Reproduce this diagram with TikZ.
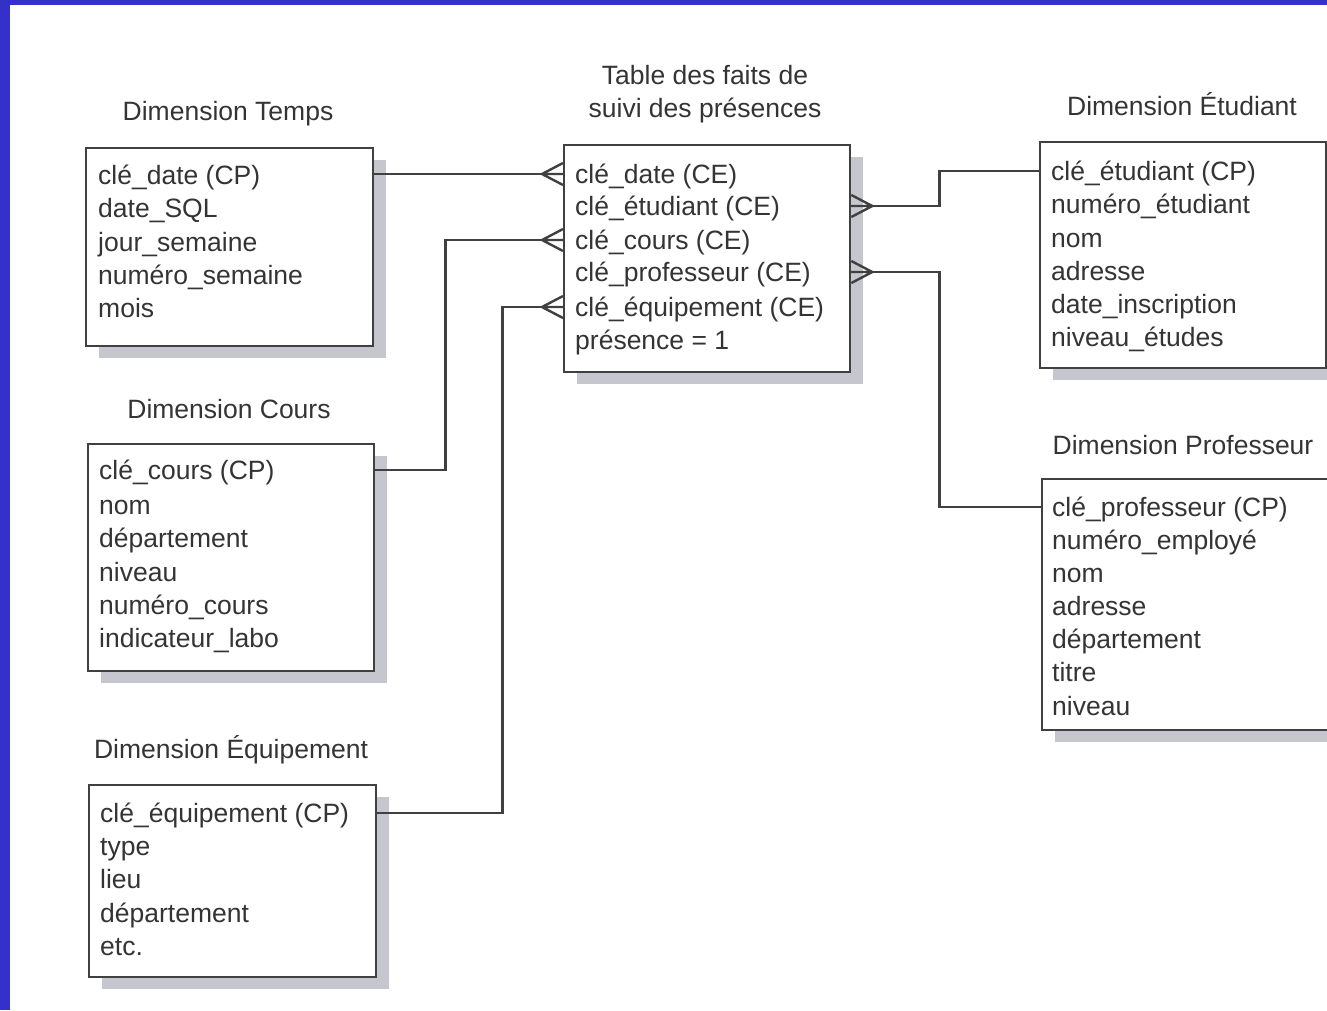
\documentclass[tikz,border=0pt]{standalone}
\usepackage{fontspec}
\setmainfont{Liberation Sans}
\usetikzlibrary{shadows}

\definecolor{frame}{RGB}{52,48,204}
\definecolor{ink}{RGB}{52,52,52}
\definecolor{rule}{RGB}{64,64,64}
\definecolor{shade}{RGB}{198,199,206}

\tikzset{
  tbl/.style={draw=rule, line width=2.3pt, fill=white, anchor=north west, inner sep=0pt,
    drop shadow={shadow xshift=13pt, shadow yshift=-12pt, fill=shade, opacity=1}},
  row/.style={anchor=west, inner sep=0pt, text height=19pt, text depth=0pt,
    text=ink, font=\fontsize{26.5}{33}\selectfont},
  caption/.style={anchor=base, inner sep=0pt, align=center, text=ink,
    font=\fontsize{26.5}{33}\selectfont},
  conn/.style={draw=rule, line width=2.4pt},
  crowfoot/.pic={\draw[conn] (-21,0) -- (0,-11) (-21,0) -- (0,11) (-21,0) -- (0,0);}
}

\begin{document}
\begin{tikzpicture}[x=1pt, y=-1pt]
\useasboundingbox (0,0) rectangle (1327,1010);
% page frame
\fill[frame] (0,0) rectangle (1327,1010);
\fill[white] (10,5) rectangle (1327,1010);

% tables
\node[tbl, minimum width=287pt, minimum height=198pt] (temps) at (85,147) {};
\node[tbl, minimum width=286pt, minimum height=227pt] (fact) at (563,144) {};
\node[tbl, minimum width=286pt, minimum height=226pt] (etud) at (1039,141) {};
\node[tbl, minimum width=286pt, minimum height=251pt] (prof) at (1041,478) {};
\node[tbl, minimum width=286pt, minimum height=227pt] (cours) at (87,443) {};
\node[tbl, minimum width=287pt, minimum height=192pt] (equip) at (88,784) {};

% captions
\node[caption] (ttemps) at (228,120) {Dimension Temps};
\node[caption] (tfact) at (705,117) {Table des faits de\\suivi des présences};
\node[caption] (tetud) at (1182,115) {Dimension Étudiant};
\node[caption] (tprof) at (1183,454) {Dimension Professeur};
\node[caption] (tcours) at (229,418) {Dimension Cours};
\node[caption] (tequip) at (231,758) {Dimension Équipement};

% Dimension Temps
\node[row] (tr1) at (98,175) {clé\_date (CP)};
\node[row] (tr2) at (98,208) {date\_SQL};
\node[row] (tr3) at (98,242) {jour\_semaine};
\node[row] (tr4) at (98,275) {numéro\_semaine};
\node[row] (tr5) at (98,308) {mois};

% fact table
\node[row] (fr1) at (575,174) {clé\_date (CE)};
\node[row] (fr2) at (575,206) {clé\_étudiant (CE)};
\node[row] (fr3) at (575,240) {clé\_cours (CE)};
\node[row] (fr4) at (575,272) {clé\_professeur (CE)};
\node[row] (fr5) at (575,307) {clé\_équipement (CE)};
\node[row] (fr6) at (575,340) {présence = 1};

% Dimension Étudiant
\node[row] (ur1) at (1051,171) {clé\_étudiant (CP)};
\node[row] (ur2) at (1051,204) {numéro\_étudiant};
\node[row] (ur3) at (1051,238) {nom};
\node[row] (ur4) at (1051,271) {adresse};
\node[row] (ur5) at (1051,304) {date\_inscription};
\node[row] (ur6) at (1051,337) {niveau\_études};

% Dimension Professeur
\node[row] (pr1) at (1052,507) {clé\_professeur (CP)};
\node[row] (pr2) at (1052,540) {numéro\_employé};
\node[row] (pr3) at (1052,573) {nom};
\node[row] (pr4) at (1052,606) {adresse};
\node[row] (pr5) at (1052,639) {département};
\node[row] (pr6) at (1052,672) {titre};
\node[row] (pr7) at (1052,706) {niveau};

% Dimension Cours
\node[row] (cr1) at (99,470) {clé\_cours (CP)};
\node[row] (cr2) at (99,505) {nom};
\node[row] (cr3) at (99,538) {département};
\node[row] (cr4) at (99,572) {niveau};
\node[row] (cr5) at (99,605) {numéro\_cours};
\node[row] (cr6) at (99,638) {indicateur\_labo};

% Dimension Équipement
\node[row] (er1) at (100,813) {clé\_équipement (CP)};
\node[row] (er2) at (100,846) {type};
\node[row] (er3) at (100,879) {lieu};
\node[row] (er4) at (100,913) {département};
\node[row] (er5) at (100,946) {etc.};

% relationships
\draw[conn] (temps.east |- fr1) -- (fact.west |- fr1);
\pic at (fact.west |- fr1) {crowfoot};

\draw[conn] (cours.east |- cr1) -- ++(70,0) |- (fact.west |- fr3);
\pic at (fact.west |- fr3) {crowfoot};

\draw[conn] (equip.east |- er1) -- ++(125,0) |- (fact.west |- fr5);
\pic at (fact.west |- fr5) {crowfoot};

\draw[conn] (fact.east |- fr2) -- ++(88,0) |- (etud.west |- ur1);
\pic[xscale=-1] at (fact.east |- fr2) {crowfoot};

\draw[conn] (fact.east |- fr4) -- ++(88,0) |- (prof.west |- pr1);
\pic[xscale=-1] at (fact.east |- fr4) {crowfoot};
\end{tikzpicture}
\end{document}
